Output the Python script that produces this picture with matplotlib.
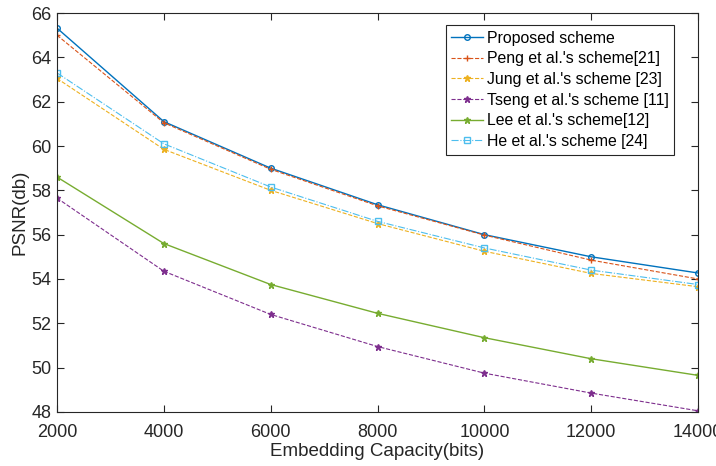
import matplotlib.pyplot as plt
plt.rcParams["font.family"] = "Liberation Sans"

capacity = [2000, 4000, 6000, 8000, 10000, 12000, 14000]
proposed = [65.32, 61.1, 59.0, 57.35, 56.0, 55.0, 54.27]
peng = [65.0, 61.05, 58.95, 57.3, 55.98, 54.85, 54.0]
jung = [63.05, 59.85, 58.0, 56.5, 55.25, 54.25, 53.65]
tseng = [57.65, 54.35, 52.4, 50.95, 49.75, 48.85, 48.05]
lee = [58.6, 55.6, 53.75, 52.45, 51.35, 50.4, 49.65]
he = [63.3, 60.1, 58.15, 56.6, 55.4, 54.4, 53.75]

fig = plt.figure(figsize=(7.16, 4.66), dpi=100)
ax = fig.add_axes([0.0796, 0.116, 0.8954, 0.856])

ax.plot(capacity, proposed, color="#0072BD", linestyle="-", marker="o", markersize=4,
        markerfacecolor="none", linewidth=1, label="Proposed scheme")
ax.plot(capacity, peng, color="#D95319", linestyle="--", marker="+", markersize=5,
        linewidth=0.8, label="Peng et al.'s scheme[21]")
ax.plot(capacity, jung, color="#EDB120", linestyle="--", marker="*", markersize=5,
        linewidth=0.8, label="Jung et al.'s scheme [23]")
ax.plot(capacity, tseng, color="#7E2F8E", linestyle="--", marker="*", markersize=4.5,
        linewidth=0.8, label="Tseng et al.'s scheme [11]")
ax.plot(capacity, lee, color="#77AC30", linestyle="-", marker="*", markersize=5,
        linewidth=1, label="Lee et al.'s scheme[12]")
ax.plot(capacity, he, color="#4DBEEE", linestyle="-.", marker="s", markersize=4,
        markerfacecolor="none", linewidth=0.8, label="He et al.'s scheme [24]")

ax.set_xlim(2000, 14000)
ax.set_ylim(48, 66)
ax.set_xticks(capacity)
ax.set_yticks(range(48, 67, 2))
ax.tick_params(direction="in", labelsize=13, top=True, right=True, length=5, colors="#262626")
ax.tick_params(axis="x", pad=9)
ax.tick_params(axis="y", pad=4)
for s in ax.spines.values():
    s.set_color("#262626")
ax.set_xlabel("Embedding Capacity(bits)", fontsize=13.5, color="#262626", labelpad=1)
ax.set_ylabel("PSNR(db)", fontsize=13.5, color="#262626", labelpad=2)

leg = ax.legend(loc="upper right", bbox_to_anchor=(0.968, 0.978), fontsize=11.4, fancybox=False,
                edgecolor="#262626", framealpha=1, handlelength=2.0, borderpad=0.35,
                labelspacing=0.36, handletextpad=0.25, borderaxespad=0.2)
leg.get_frame().set_linewidth(0.8)

plt.savefig("out.png", dpi=100)
